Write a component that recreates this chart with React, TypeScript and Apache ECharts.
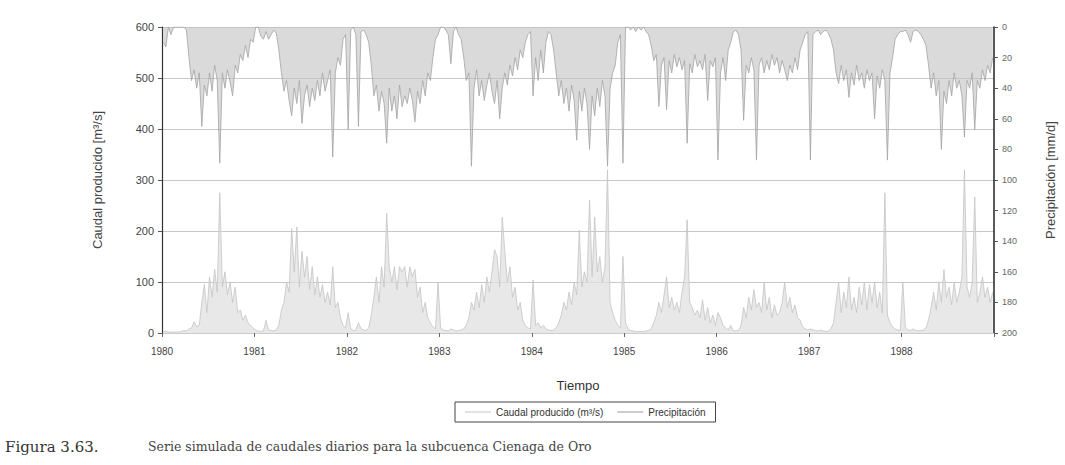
import React, { useEffect, useRef } from "react";
import * as echarts from "echarts";

// Years shown on the time axis (each year sampled in 36 steps of ~10 days)
const YEARS = [1980, 1981, 1982, 1983, 1984, 1985, 1986, 1987, 1988];
const YEAR_TICK_LABELS = ["1980", "1981", "1982", "1983", "1984", "1985", "1986", "1987", "1988"];
const STEPS_PER_YEAR = 36;

// Caudal producido (m3/s)
const FLOW_1980 = [3, 3, 2, 2, 2, 2, 2, 3, 5, 4, 8, 10, 22, 12, 15, 60, 95, 40, 110, 70, 125, 80, 275, 90, 120, 75, 100, 60, 90, 40, 45, 25, 35, 20, 15, 10];
const FLOW_1981 = [5, 4, 3, 4, 25, 6, 5, 4, 6, 15, 45, 60, 100, 80, 205, 120, 208, 90, 160, 110, 150, 85, 130, 75, 110, 70, 95, 60, 80, 55, 130, 50, 60, 30, 15, 10];
const FLOW_1982 = [40, 8, 5, 6, 20, 8, 6, 5, 10, 35, 70, 110, 60, 130, 90, 235, 130, 100, 130, 85, 130, 120, 130, 90, 130, 110, 125, 70, 90, 40, 60, 30, 20, 12, 8, 100];
const FLOW_1983 = [10, 6, 5, 4, 8, 6, 4, 5, 6, 8, 15, 30, 60, 45, 80, 50, 95, 60, 110, 80, 120, 163, 150, 90, 227, 160, 100, 130, 70, 90, 45, 60, 25, 15, 10, 8];
const FLOW_1984 = [104, 15, 20, 10, 15, 8, 6, 5, 6, 10, 20, 35, 60, 45, 80, 55, 100, 75, 202, 90, 120, 100, 261, 110, 227, 120, 150, 100, 130, 320, 60, 40, 25, 15, 10, 150];
const FLOW_1985 = [20, 8, 5, 4, 3, 3, 3, 3, 4, 5, 8, 20, 35, 60, 40, 75, 110, 50, 70, 45, 60, 40, 80, 110, 222, 60, 50, 35, 45, 30, 65, 25, 50, 20, 35, 15];
const FLOW_1986 = [40, 30, 15, 10, 6, 15, 5, 4, 5, 15, 50, 30, 70, 45, 85, 50, 60, 40, 100, 45, 70, 30, 55, 35, 40, 60, 100, 50, 70, 40, 55, 30, 25, 12, 8, 6];
const FLOW_1987 = [8, 6, 5, 4, 6, 4, 3, 4, 8, 20, 60, 100, 40, 80, 50, 110, 45, 70, 40, 90, 55, 100, 45, 95, 60, 100, 50, 80, 40, 275, 35, 20, 12, 8, 6, 5];
const FLOW_1988 = [100, 10, 6, 5, 8, 5, 4, 5, 6, 10, 25, 50, 80, 45, 100, 60, 124, 70, 90, 55, 100, 60, 80, 110, 320, 90, 70, 100, 267, 60, 80, 110, 70, 90, 60, 80];

// Precipitación (mm/d) (plotted on the inverted right axis)
const PRECIP_1980 = [10, 13, 0, 5, 0, 0, 0, 0, 0, 2, 20, 35, 28, 40, 30, 65, 38, 45, 30, 42, 25, 35, 89, 30, 40, 28, 36, 45, 25, 30, 18, 22, 12, 20, 8, 10];
const PRECIP_1981 = [0, 0, 6, 8, 3, 8, 5, 2, 4, 15, 30, 42, 35, 48, 58, 40, 50, 35, 63, 45, 38, 52, 40, 48, 35, 45, 30, 42, 35, 28, 85, 30, 20, 25, 8, 5];
const PRECIP_1982 = [67, 2, 0, 5, 65, 3, 2, 5, 10, 25, 45, 38, 55, 42, 50, 76, 40, 55, 45, 60, 38, 52, 45, 50, 40, 48, 62, 42, 50, 35, 45, 30, 35, 20, 8, 5];
const PRECIP_1983 = [0, 0, 2, 5, 24, 3, 0, 5, 8, 20, 35, 30, 91, 40, 28, 45, 35, 48, 38, 30, 42, 50, 35, 60, 40, 30, 38, 25, 32, 20, 28, 15, 20, 10, 5, 3];
const PRECIP_1984 = [45, 20, 35, 15, 30, 10, 3, 5, 15, 30, 45, 35, 50, 40, 55, 38, 48, 74, 42, 55, 40, 50, 80, 45, 58, 40, 52, 35, 45, 91, 40, 30, 25, 10, 5, 89];
const PRECIP_1985 = [0, 0, 2, 0, 3, 0, 2, 0, 3, 5, 12, 22, 18, 52, 25, 20, 54, 22, 30, 18, 26, 20, 28, 22, 76, 24, 30, 18, 26, 22, 28, 18, 48, 22, 26, 20];
const PRECIP_1986 = [87, 30, 20, 35, 15, 10, 3, 2, 5, 15, 61, 25, 30, 20, 28, 87, 25, 20, 30, 22, 28, 18, 25, 20, 30, 22, 28, 35, 25, 30, 20, 28, 15, 10, 5, 3];
const PRECIP_1987 = [87, 5, 3, 2, 5, 3, 2, 4, 8, 15, 30, 37, 25, 35, 28, 46, 30, 38, 25, 35, 30, 40, 28, 35, 30, 60, 32, 40, 28, 35, 87, 30, 20, 8, 5, 3];
const PRECIP_1988 = [3, 2, 5, 10, 3, 2, 3, 5, 8, 12, 25, 40, 30, 45, 35, 80, 42, 50, 35, 45, 30, 40, 35, 45, 72, 35, 40, 30, 67, 35, 40, 28, 35, 25, 30, 20];

const FLOW_BY_YEAR = [FLOW_1980, FLOW_1981, FLOW_1982, FLOW_1983, FLOW_1984, FLOW_1985, FLOW_1986, FLOW_1987, FLOW_1988];
const PRECIP_BY_YEAR = [PRECIP_1980, PRECIP_1981, PRECIP_1982, PRECIP_1983, PRECIP_1984, PRECIP_1985, PRECIP_1986, PRECIP_1987, PRECIP_1988];

const FLOW_TICKS = [0, 100, 200, 300, 400, 500, 600];
const PRECIP_TICKS = [0, 20, 40, 60, 80, 100, 120, 140, 160, 180, 200];

function toPoints(byYear: number[][]): [number, number][] {
  const pts: [number, number][] = [];
  YEARS.forEach((y, k) => {
    byYear[k].forEach((v, i) => {
      pts.push([y + (i + 0.5) / STEPS_PER_YEAR, v]);
    });
  });
  return pts;
}

const SANS = "'Liberation Sans Narrow', 'Liberation Sans', Arial, sans-serif";
const SERIF = "'DejaVu Serif', 'Liberation Serif', serif";

export default function App() {
  const ref = useRef<HTMLDivElement>(null);

  useEffect(() => {
    if (!ref.current) return;
    const chart = echarts.init(ref.current, undefined, { renderer: "svg" });
    const flowPts = toPoints(FLOW_BY_YEAR);
    const precipPts = toPoints(PRECIP_BY_YEAR);

    chart.setOption({
      animation: false,
      backgroundColor: "#ffffff",
      textStyle: { fontFamily: SANS },
      grid: { left: 162, right: 66, top: 27, bottom: 132, containLabel: false },
      legend: {
        top: 402,
        left: 455,
        orient: "horizontal",
        itemWidth: 26,
        itemHeight: 8,
        itemGap: 14,
        padding: [5, 10, 5, 10],
        borderColor: "#444",
        borderWidth: 1,
        textStyle: { fontSize: 10, color: "#333", fontFamily: SANS },
        data: [
          { name: "Caudal producido (m³/s)", icon: "path://M0,4 L26,4 L26,5 L0,5 Z", itemStyle: { color: "#c4c4c4" } },
          { name: "Precipitación", icon: "path://M0,4 L26,4 L26,5 L0,5 Z", itemStyle: { color: "#999999" } },
        ],
      },
      xAxis: {
        type: "value",
        min: YEARS[0],
        max: YEARS[YEARS.length - 1] + 1,
        interval: 1,
        name: "Tiempo",
        nameLocation: "middle",
        nameGap: 46,
        nameTextStyle: { fontSize: 13, color: "#333", fontFamily: SANS },
        axisLine: { show: true, onZero: false, lineStyle: { color: "#cccccc", width: 1 } },
        axisTick: { show: true, length: 4, lineStyle: { color: "#666" } },
        axisLabel: {
          fontSize: 10,
          color: "#444",
          margin: 13,
          formatter: (v: number) => {
            const idx = YEARS.indexOf(Math.round(v));
            return idx >= 0 ? YEAR_TICK_LABELS[idx] : "";
          },
        },
        splitLine: { show: false },
      },
      yAxis: [
        {
          type: "value",
          min: FLOW_TICKS[0],
          max: FLOW_TICKS[FLOW_TICKS.length - 1],
          interval: 100,
          position: "left",
          name: "Caudal producido [m³/s]",
          nameLocation: "middle",
          nameRotate: 90,
          nameGap: 58,
          nameTextStyle: { fontSize: 13, color: "#444", fontFamily: SANS },
          axisLine: { show: true, lineStyle: { color: "#333", width: 1.2 } },
          axisTick: { show: true, length: 4, lineStyle: { color: "#555" } },
          axisLabel: { fontSize: 11, color: "#444", margin: 8 },
          splitLine: { show: true, lineStyle: { color: "#c8c8c8", width: 1 } },
        },
        {
          type: "value",
          min: PRECIP_TICKS[0],
          max: PRECIP_TICKS[PRECIP_TICKS.length - 1],
          interval: 20,
          inverse: true,
          position: "right",
          name: "Precipitación [mm/d]",
          nameLocation: "middle",
          nameRotate: 90,
          nameGap: 50,
          nameTextStyle: { fontSize: 13, color: "#444", fontFamily: SANS },
          axisLine: { show: true, lineStyle: { color: "#222", width: 1.5 } },
          axisTick: { show: true, length: 4, lineStyle: { color: "#555" } },
          axisLabel: { fontSize: 9, color: "#666", margin: 8 },
          splitLine: { show: false },
        },
      ],
      series: [
        {
          name: "Caudal producido (m³/s)",
          type: "line",
          yAxisIndex: 0,
          data: flowPts,
          symbol: "none",
          showSymbol: false,
          lineStyle: { color: "#c4c4c4", width: 0.8 },
          itemStyle: { color: "#c4c4c4" },
          areaStyle: { color: "#e0e0e0", opacity: 0.75 },
          z: 2,
        },
        {
          name: "Precipitación",
          type: "line",
          yAxisIndex: 1,
          data: precipPts,
          symbol: "none",
          showSymbol: false,
          lineStyle: { color: "#a3a3a3", width: 0.8 },
          itemStyle: { color: "#999999" },
          areaStyle: { color: "#c2c2c2", opacity: 0.6 },
          z: 3,
        },
      ],
      graphic: [
        {
          type: "text",
          left: 5,
          top: 439,
          style: { text: "Figura 3.63.", font: `15px ${SERIF}`, fill: "#333" },
        },
        {
          type: "text",
          left: 148,
          top: 440,
          style: {
            text: "Serie simulada de caudales diarios para la subcuenca Cienaga de Oro",
            font: `12.5px ${SERIF}`,
            fill: "#444",
          },
        },
      ],
    });

    return () => chart.dispose();
  }, []);

  return (
    <div
      ref={ref}
      style={{ position: "fixed", left: 0, top: 0, width: 1065, height: 465, background: "#fff" }}
    />
  );
}
